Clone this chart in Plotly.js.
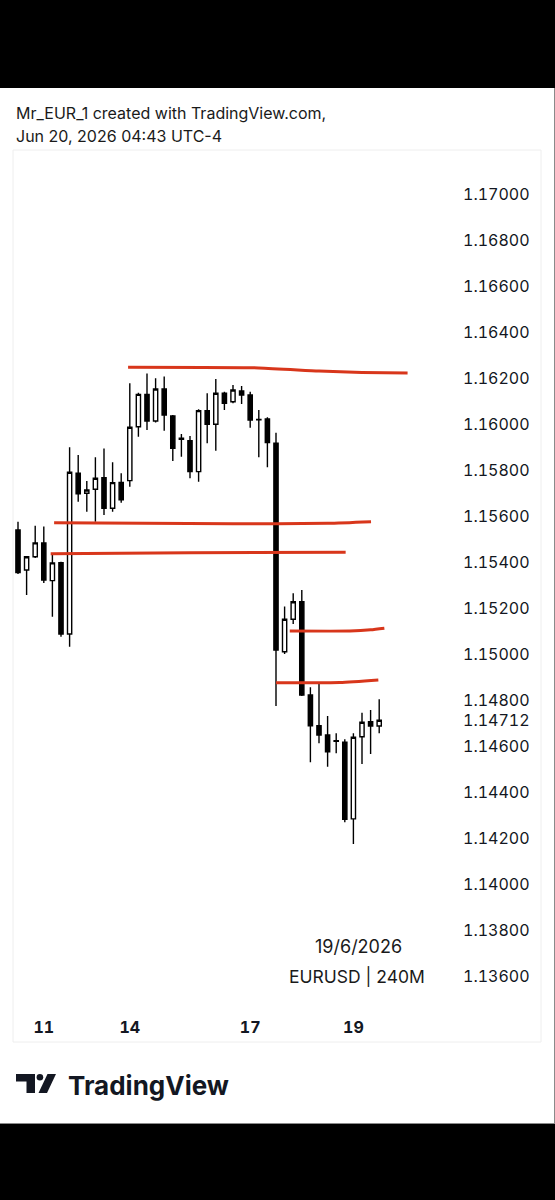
<!DOCTYPE html>
<html>
<head>
<meta charset="utf-8">
<script src="https://cdn.plot.ly/plotly-3.0.1.min.js"></script>
<style>
  html, body { margin: 0; padding: 0; background: #ffffff; }
  #chart { width: 555px; height: 1200px; }
  #chart .ytick text, #chart .xtick text {
    font-variant-numeric: tabular-nums;
    font-feature-settings: "tnum" 1;
  }
</style>
</head>
<body>
<div id="chart"></div>
<script>
// ---- data (EURUSD 240M) ----
const candleIndex = [0,1,2,3,4,5,6,7,8,9,10,11,12,13,14,15,16,17,18,19,20,21,22,23,24,25,26,27,28,29,30,31,32,33,34,35,36,37,38,39,40,41,42];
const opens  = [1.15539,1.15365,1.15423,1.15483,1.15319,1.15397,1.15087,1.15786,1.15699,1.15716,1.15767,1.15634,1.15746,1.15754,1.15988,1.16129,1.16013,1.16152,1.16035,1.15938,1.15927,1.15793,1.16058,1.15999,1.16134,1.16097,1.16144,1.16126,1.16020,1.16022,1.15916,1.15010,1.15151,1.15227,1.14822,1.14688,1.14648,1.14623,1.14616,1.14283,1.14640,1.14706,1.14687];
const highs  = [1.15575,1.15425,1.15558,1.15554,1.15439,1.15401,1.15899,1.15865,1.15752,1.15855,1.15894,1.15834,1.15786,1.16177,1.16136,1.16220,1.16199,1.16206,1.16039,1.15957,1.15948,1.16064,1.16134,1.16196,1.16140,1.16170,1.16165,1.16140,1.16061,1.16029,1.15962,1.15206,1.15264,1.15278,1.14855,1.14870,1.14730,1.14655,1.14629,1.14655,1.14745,1.14757,1.14803];
const lows   = [1.15348,1.15257,1.15417,1.15309,1.15162,1.15075,1.15032,1.15662,1.15619,1.15575,1.15604,1.15619,1.15658,1.15727,1.15945,1.15974,1.16006,1.15971,1.15839,1.15858,1.15764,1.15749,1.15916,1.15884,1.16061,1.16090,1.16087,1.15984,1.15855,1.15812,1.14774,1.15000,1.15130,1.14817,1.14529,1.14612,1.14510,1.14568,1.14268,1.14174,1.14522,1.14565,1.14655];
const closes = [1.15354,1.15423,1.15483,1.15322,1.15396,1.15087,1.15790,1.15696,1.15713,1.15764,1.15634,1.15745,1.15670,1.15986,1.16129,1.16013,1.16152,1.16039,1.15894,1.15934,1.15793,1.16058,1.15999,1.16134,1.16090,1.16148,1.16126,1.16017,1.16018,1.15919,1.15017,1.15151,1.15227,1.14822,1.14688,1.14648,1.14575,1.14620,1.14281,1.14638,1.14703,1.14687,1.14712];

// hand-drawn horizontal levels (x in candle index, y in price)
const level1X = [12.8, 28, 35, 40, 45.3];
const level1Y = [1.16247, 1.16244, 1.16230, 1.16224, 1.16222];
const level2X = [4.2, 25, 36, 41.05];
const level2Y = [1.15571, 1.15566, 1.15568, 1.15575];
const level3X = [3.8, 20, 38.1];
const level3Y = [1.15436, 1.15440, 1.15442];
const level4X = [31.6, 38.6, 41, 42.6];
const level4Y = [1.15100, 1.15100, 1.15105, 1.15112];
const level5X = [30, 37.4, 41.9];
const level5Y = [1.14875, 1.14876, 1.14887];

// axis ticks
const dayTickIndex = [3, 13, 27, 39];
const dayTickLabels = ["11", "14", "17", "19"];
const priceTicks = [1.136,1.138,1.140,1.142,1.144,1.146,1.14712,1.148,1.150,1.152,1.154,1.156,1.158,1.160,1.162,1.164,1.166,1.168,1.170];
const priceTickLabels = priceTicks.map(v => v.toFixed(5));

// ---- layout geometry (pixels) ----
const W = 555, H = 1200;
const plotL = 13, plotR = 458, plotT = 150, plotB = 1008;
const plotW = plotR - plotL, plotH = plotB - plotT;
// vertical scale: 1.17000 at y=194, 46px per 0.002
const refY = 194, refP = 1.17, pxPerUnit = 23000;
const yTopVal = refP + (refY - plotT) / pxPerUnit;
const yBotVal = refP - (plotB - refY) / pxPerUnit;
// horizontal: candle 0 centre at x=18, pitch 8.6px
const x0px = 18, pitch = 8.6;
const xLeftVal = (plotL - x0px) / pitch;
const xRightVal = (plotR - x0px) / pitch;

const px = x => (x - plotL) / plotW;
const py = y => 1 - (y - plotT) / plotH;

const FONT = "Inter, 'Liberation Sans', Arial, sans-serif";
const RED = "#d8361b";

const levelTrace = (xs, ys) => ({
  type: "scatter", mode: "lines", x: xs, y: ys,
  line: { color: RED, width: 3, shape: "spline", smoothing: 0.6 },
  hoverinfo: "skip", showlegend: false
});

const traces = [
  levelTrace(level1X, level1Y),
  levelTrace(level2X, level2Y),
  levelTrace(level3X, level3Y),
  levelTrace(level4X, level4Y),
  levelTrace(level5X, level5Y),
  {
    type: "candlestick",
    x: candleIndex, open: opens, high: highs, low: lows, close: closes,
    increasing: { line: { color: "#000000", width: 1.4 }, fillcolor: "#ffffff" },
    decreasing: { line: { color: "#000000", width: 1.4 }, fillcolor: "#000000" },
    whiskerwidth: 0,
    hoverinfo: "skip", showlegend: false
  }
];

const annotations = [
  { text: "Mr_EUR_1 created with TradingView.com,", x: px(14), y: py(113), xanchor: "left", yanchor: "middle",
    font: { family: FONT, size: 16, color: "#1a1a1a" } },
  { text: "Jun 20, 2026 04:43 UTC-4", x: px(14), y: py(136), xanchor: "left", yanchor: "middle",
    font: { family: FONT, size: 16, color: "#1a1a1a" } },
  { text: "19/6/2026", x: px(358), y: py(946), xanchor: "center", yanchor: "middle",
    font: { family: FONT, size: 18, color: "#1a1a1a" } },
  { text: "EURUSD | 240M", x: px(357), y: py(976), xanchor: "center", yanchor: "middle",
    font: { family: FONT, size: 17.5, color: "#1a1a1a" } },
  { text: "<b>TradingView</b>", x: px(66), y: py(1085), xanchor: "left", yanchor: "middle",
    font: { family: FONT, size: 26, color: "#131722" } }
].map(a => Object.assign({ xref: "paper", yref: "paper", showarrow: false }, a));

const shapes = [
  // chart frame
  { type: "rect", xref: "paper", yref: "paper", x0: px(13), x1: px(541), y0: py(150), y1: py(1042),
    line: { color: "#eeeeee", width: 1 }, fillcolor: "rgba(0,0,0,0)", layer: "below" },
  // black bars
  { type: "rect", xref: "paper", yref: "paper", x0: px(0), x1: px(555), y0: py(0), y1: py(88),
    line: { width: 0 }, fillcolor: "#000000" },
  { type: "rect", xref: "paper", yref: "paper", x0: px(0), x1: px(555), y0: py(1124), y1: py(1200),
    line: { width: 0 }, fillcolor: "#000000" },
  // page edge lines
  { type: "line", xref: "paper", yref: "paper", x0: px(554.5), x1: px(554.5), y0: py(88), y1: py(1124),
    line: { color: "#8a8a8a", width: 1 } },
  { type: "line", xref: "paper", yref: "paper", x0: px(0), x1: px(555), y0: py(1123.5), y1: py(1123.5),
    line: { color: "#8a8a8a", width: 1 } },
  // TradingView logo icon
  { type: "path", xref: "paper", yref: "paper",
    path: `M ${px(16)} ${py(1074)} L ${px(35)} ${py(1074)} L ${px(35)} ${py(1093)} L ${px(26.5)} ${py(1093)} L ${px(26.5)} ${py(1081.5)} L ${px(16)} ${py(1081.5)} Z`,
    fillcolor: "#131722", line: { width: 0 } },
  { type: "circle", xref: "paper", yref: "paper", x0: px(36.6), x1: px(43.2), y0: py(1074), y1: py(1080.6),
    fillcolor: "#131722", line: { width: 0 } },
  { type: "path", xref: "paper", yref: "paper",
    path: `M ${px(47.5)} ${py(1074)} L ${px(56)} ${py(1074)} L ${px(47)} ${py(1093)} L ${px(38.5)} ${py(1093)} Z`,
    fillcolor: "#131722", line: { width: 0 } }
];

const layout = {
  width: W, height: H,
  margin: { l: plotL, r: W - plotR, t: plotT, b: H - plotB, pad: 0 },
  paper_bgcolor: "#ffffff", plot_bgcolor: "#ffffff",
  showlegend: false,
  xaxis: {
    range: [xLeftVal, xRightVal], fixedrange: true,
    rangeslider: { visible: false },
    tickmode: "array", tickvals: dayTickIndex, ticktext: dayTickLabels,
    ticks: "", showgrid: false, zeroline: false, showline: false,
    tickfont: { family: FONT, size: 16, color: "#131722", weight: "bold" },
    ticklabelstandoff: 8
  },
  yaxis: {
    range: [yBotVal, yTopVal], fixedrange: true, side: "right",
    tickmode: "array", tickvals: priceTicks, ticktext: priceTickLabels,
    ticks: "", showgrid: false, zeroline: false, showline: false,
    tickfont: { family: FONT, size: 16, color: "#131722" },
    ticklabelstandoff: 4
  },
  annotations: annotations,
  shapes: shapes
};

Plotly.newPlot("chart", traces, layout, { displayModeBar: false, staticPlot: true });
</script>
</body>
</html>
